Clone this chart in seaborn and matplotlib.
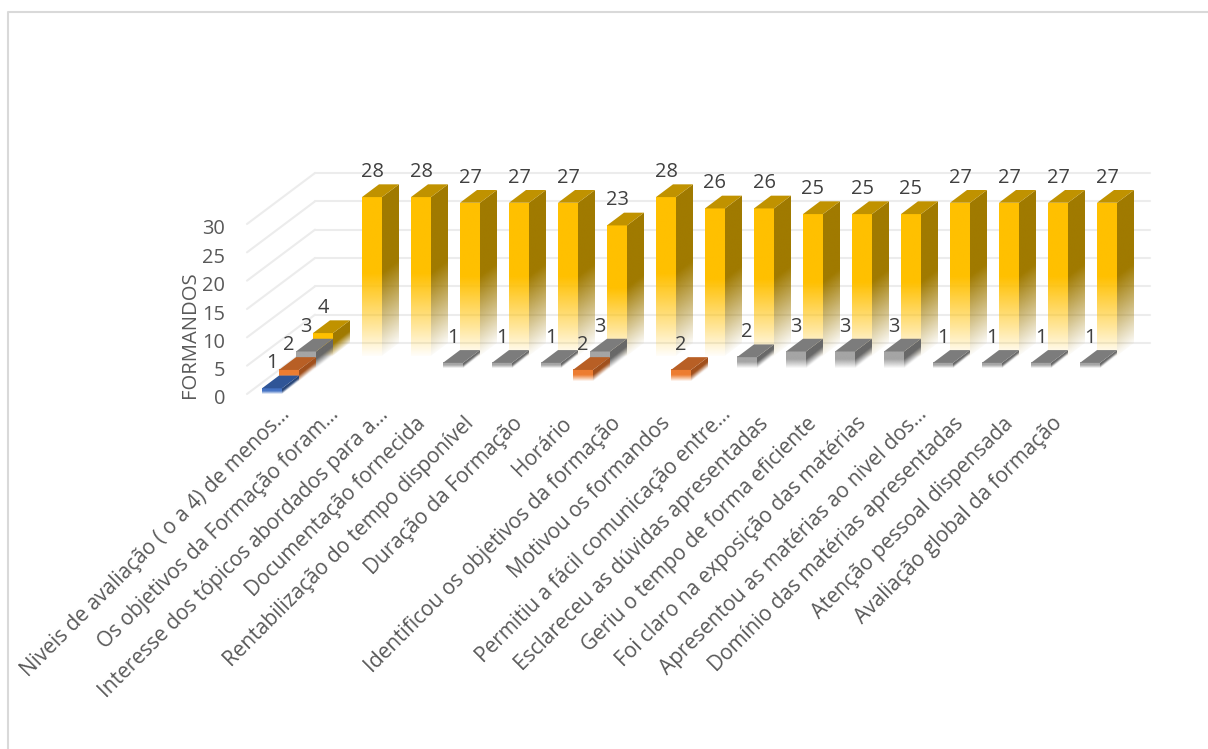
import numpy as np
import pandas as pd
import matplotlib
matplotlib.use("Agg")
import matplotlib.pyplot as plt
from matplotlib.colors import to_rgb
from matplotlib.patches import Polygon
from matplotlib.transforms import ScaledTranslation
import seaborn as sns

categorias = [
    "Niveis de avaliação ( o a 4) de menos…",
    "Os objetivos da Formação foram…",
    "Interesse dos tópicos abordados para a…",
    "Documentação fornecida",
    "Rentabilização do tempo disponível",
    "Duração da Formação",
    "Horário",
    "Identificou os objetivos da formação",
    "Motivou os formandos",
    "Permitiu a fácil comunicação entre…",
    "Esclareceu as dúvidas apresentadas",
    "Geriu o tempo de forma eficiente",
    "Foi claro na exposição das matérias",
    "Apresentou as matérias ao nivel dos…",
    "Domínio das matérias apresentadas",
    "Atenção pessoal dispensada",
    "Avaliação global da formação",
]
nan = float("nan")
serie_1 = [1, nan, nan, nan, nan, nan, nan, nan, nan, nan, nan, nan, nan, nan, nan, nan, nan]
serie_2 = [2, nan, nan, nan, nan, nan, 2, nan, 2, nan, nan, nan, nan, nan, nan, nan, nan]
serie_3 = [3, nan, nan, 1, 1, 1, 3, nan, nan, 2, 3, 3, 3, 1, 1, 1, 1]
serie_4 = [4, 28, 28, 27, 27, 27, 23, 28, 26, 26, 25, 25, 25, 27, 27, 27, 27]
series = [serie_1, serie_2, serie_3, serie_4]

# front, top and side colours of each series
cor_frente = ["#4472C4", "#ED7D31", "#A5A5A5", "#FFC000"]
cor_topo = ["#2F5597", "#B85F25", "#7C7C7C", "#C09200"]
cor_lado = ["#264478", "#A2501C", "#686868", "#A07A00"]

DPI = 100
W, H = 1208, 749
PX_X = 49.0            # pixels per category
PX_Y = 170.0 / 30.0    # pixels per unit on the value axis
DX = 17.0 / PX_X       # depth step per series, horizontal
DY = 12.75 / PX_Y      # depth step per series, vertical
LARGURA = 20.0 / PX_X

sns.set_theme(style="white")
plt.rcParams["font.family"] = ["Open Sans", "DejaVu Sans"]

fig = plt.figure(figsize=(W / DPI, H / DPI), dpi=DPI, facecolor="white")
ax = fig.add_axes([247 / W, (H - 394) / H, 835 / W, 170 / H])


def fade(frac):
    """Opacity along a bar face, 0 at the top and 1 at the base."""
    return np.interp(frac, [0.0, 0.48, 0.8, 1.0], [1.0, 1.0, 0.42, 0.03])


def face_frente(x0, x1, base, topo, cor, z):
    frac = np.linspace(0, 1, 128)
    img = np.ones((128, 1, 4))
    img[..., :3] = to_rgb(cor)
    img[:, 0, 3] = fade(frac)
    im = ax.imshow(img, extent=(x0, x1, base, topo), origin="upper", aspect="auto",
                   interpolation="bilinear", zorder=z)
    im.set_clip_on(False)


def face_lado(x0, base, topo, cor, z):
    h = topo - base
    xs = np.linspace(0, 1, 40)
    ys = np.linspace(topo + DY, base, 200)
    xx, yy = np.meshgrid(xs, ys)
    frac = np.clip((topo + xx * DY - yy) / h, 0, 1)
    img = np.ones((200, 40, 4))
    img[..., :3] = to_rgb(cor)
    img[..., 3] = fade(frac)
    im = ax.imshow(img, extent=(x0, x0 + DX, base, topo + DY), origin="upper",
                   aspect="auto", interpolation="bilinear", zorder=z)
    clip = Polygon([(x0, base), (x0 + DX, base + DY), (x0 + DX, topo + DY), (x0, topo)],
                   transform=ax.transData)
    im.set_clip_path(clip)
    im.set_clip_box(fig.bbox)


# series are stacked in depth: the last one at the back is drawn first
for s in range(3, -1, -1):
    tabela = pd.DataFrame({"categoria": categorias, "valor": series[s]}).dropna()
    antes = len(ax.patches)
    sns.barplot(data=tabela, x="categoria", y="valor", order=categorias, width=LARGURA,
                color=cor_frente[s], saturation=1, errorbar=None, ax=ax, zorder=2)
    barras = ax.patches[antes:]
    z = 5 + (3 - s)
    for barra in barras:
        barra.set_facecolor("none")
        barra.set_edgecolor("none")
        altura = barra.get_height()
        x0 = barra.get_x() + s * DX
        x1 = x0 + barra.get_width()
        base = s * DY
        topo = base + altura
        face_frente(x0, x1, base, topo, cor_frente[s], z + 0.2)
        face_lado(x1, base, topo, cor_lado[s], z + 0.1)
        ax.add_patch(Polygon([(x0, topo), (x1, topo), (x1 + DX, topo + DY), (x0 + DX, topo + DY)],
                             facecolor=cor_topo[s], edgecolor="none", zorder=z + 0.3,
                             clip_on=False))
        ax.annotate(f"{altura:.0f}", xy=((x0 + x1) / 2, topo), xytext=(0, 25 * 72 / DPI),
                    textcoords="offset points", ha="center", va="center",
                    fontsize=14.4, color="#404040", zorder=20, annotation_clip=False)

ax.set_xlim(-25 / PX_X, 810 / PX_X)
ax.set_ylim(0, 30)
ax.set_xlabel("")

# side wall and back wall gridlines
for t in range(0, 31, 5):
    ax.plot([ax.get_xlim()[0], ax.get_xlim()[0] + 4 * DX], [t, t + 4 * DY], color="#ececec",
            lw=1.5, clip_on=False, zorder=1)
    ax.plot([ax.get_xlim()[0] + 4 * DX, ax.get_xlim()[1] + 4 * DX], [t + 4 * DY, t + 4 * DY],
            color="#ececec", lw=1.5, clip_on=False, zorder=1)

sns.despine(ax=ax, left=True, bottom=True)
ax.patch.set_alpha(0)

ax.set_yticks(range(0, 31, 5))
ax.tick_params(axis="y", length=0, pad=15.5, labelsize=14.4, labelcolor="#595959")
ax.set_ylabel("FORMANDOS", fontsize=14.6, color="#595959")
ax.yaxis.set_label_coords((200 - 247) / 835, (394 - 335) / 170)
for rotulo in ax.get_yticklabels():
    rotulo.set_transform(rotulo.get_transform() + ScaledTranslation(0, -3 / DPI, fig.dpi_scale_trans))

ax.set_xticks(range(len(categorias)))
ax.set_xticklabels(categorias)
ax.tick_params(axis="x", length=0, pad=14, labelsize=15, labelcolor="#595959")
for rotulo in ax.get_xticklabels():
    rotulo.set_rotation(45)
    rotulo.set_ha("right")
    rotulo.set_va("center")
    rotulo.set_rotation_mode("anchor")
    # truncated labels sit a little further along the diagonal
    if rotulo.get_text().endswith("…"):
        desvio = (15, 2)
    else:
        desvio = (3, -7)
    rotulo.set_transform(rotulo.get_transform()
                         + ScaledTranslation(desvio[0] / DPI, desvio[1] / DPI, fig.dpi_scale_trans))

# chart area border, open on the right and at the bottom
fig.add_artist(plt.Line2D([8 / W, 8 / W, 1], [0, (H - 12) / H, (H - 12) / H],
                          color="#d9d9d9", lw=1.5, transform=fig.transFigure))

fig.savefig("out.png", dpi=DPI, facecolor="white")
